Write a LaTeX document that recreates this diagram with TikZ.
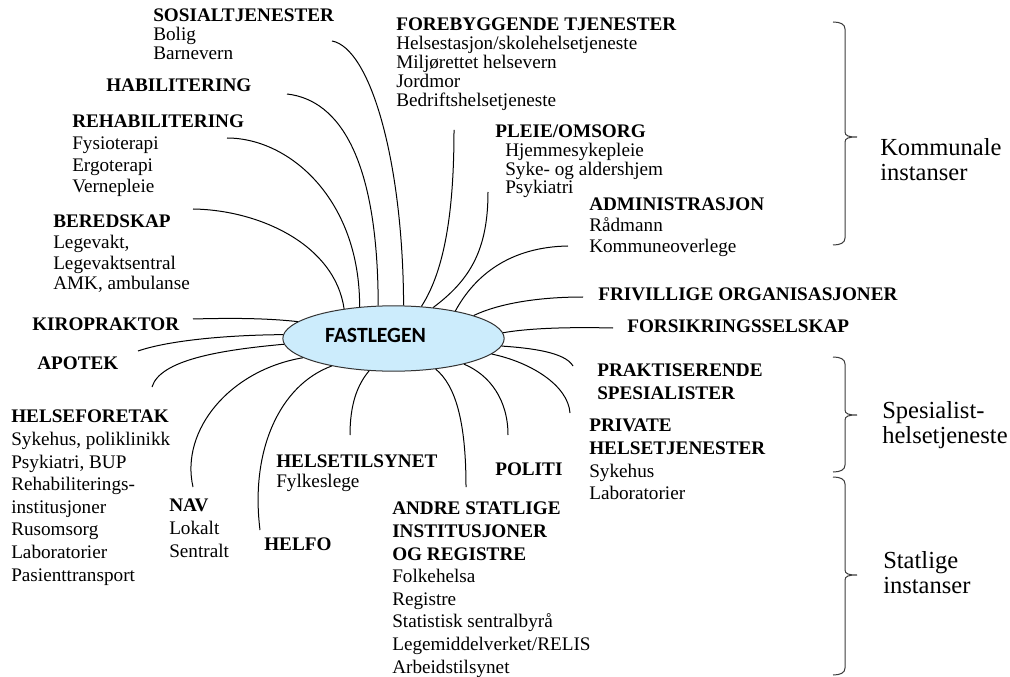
\documentclass[tikz,border=0pt]{standalone}
\usepackage{fontspec}
\setmainfont{Liberation Serif}
\newfontfamily\calibrifont{Carlito}
\usepackage{tikz}
\usetikzlibrary{shapes.geometric,calc}
\definecolor{EllipseBlue}{RGB}{204,236,252}
\definecolor{BraceGray}{RGB}{60,60,60}

% right brace: top y, bottom y, tip y
\newcommand{\groupbrace}[3]{%
  \draw[BraceGray, line width=0.75pt] (833,#1) .. controls (840,#1) and (845,#1+2) .. (845,#1+7)
    -- (845,#3-5) .. controls (845,#3-1) and (849,#3) .. (857,#3)
    .. controls (849,#3) and (845,#3+1) .. (845,#3+5)
    -- (845,#2-7) .. controls (845,#2-2) and (840,#2) .. (833,#2);}

\begin{document}
\begin{tikzpicture}[x=0.75pt, y=-0.75pt,
    entry/.style={anchor=north west, inner sep=0pt, align=left, font=\fontsize{14.4}{#1}\selectfont},
    entry/.default=14.25,
    grouplabel/.style={anchor=north west, inner sep=0pt, align=left, font=\fontsize{18.4}{18.75}\selectfont},
    link/.style={line width=0.75pt, black}]
    \useasboundingbox (0,0) rectangle (1010,677);

    % Centre
    \node[ellipse, draw=black!80, fill=EllipseBlue, line width=0.75pt, minimum width=166pt, minimum height=49pt, inner sep=0pt] (fl) at (393.5,338.5) {};
    \node[anchor=base, font={\calibrifont\fontsize{16.3}{18}\selectfont\bfseries}] (fltext) at (375.5,342) {FASTLEGEN};

    % Upper left
    \node[entry] (sos) at (153,9) {\textbf{SOSIALTJENESTER}\\Bolig\\Barnevern};
    \node[entry] (habil) at (106,79) {\textbf{HABILITERING}};
    \node[entry=16.2] (rehab) at (72,115) {\textbf{REHABILITERING}\\Fysioterapi\\Ergoterapi\\Vernepleie};
    \node[entry=15.5] (bered) at (53,215) {\textbf{BEREDSKAP}\\Legevakt,\\Legevaktsentral\\AMK, ambulanse};
    \node[entry] (kiro) at (32,318) {\textbf{KIROPRAKTOR}};
    \node[entry] (apotek) at (37,357) {\textbf{APOTEK}};

    % Lower left
    \node[entry=16.95] (hf) at (11,410) {\textbf{HELSEFORETAK}\\Sykehus, poliklinikk\\Psykiatri, BUP\\Rehabiliterings-\\institusjoner\\Rusomsorg\\Laboratorier\\Pasienttransport};
    \node[entry=17.25] (nav) at (169,499) {\textbf{NAV}\\Lokalt\\Sentralt};
    \node[entry] (helfo) at (264,538) {\textbf{HELFO}};
    \node[entry=15] (htil) at (276,455) {\textbf{HELSETILSYNET}\\Fylkeslege};
    \node[entry=16.95] (andre) at (392,502) {\textbf{ANDRE STATLIGE}\\\textbf{INSTITUSJONER}\\\textbf{OG REGISTRE}\\Folkehelsa\\Registre\\Statistisk sentralbyrå\\Legemiddelverket/RELIS\\Arbeidstilsynet};
    \node[entry] (politi) at (495,463) {\textbf{POLITI}};

    % Right
    \node[entry=17.25] (prakt) at (597,364) {\textbf{PRAKTISERENDE}\\\textbf{SPESIALISTER}};
    \node[entry=17] (priv) at (589,419) {\textbf{PRIVATE}\\\textbf{HELSETJENESTER}\\Sykehus\\Laboratorier};
    \node[entry] (fors) at (627,320) {\textbf{FORSIKRINGSSELSKAP}};
    \node[entry] (friv) at (598,288) {\textbf{FRIVILLIGE ORGANISASJONER}};
    \node[entry=15.75] (admin) at (589,198) {\textbf{ADMINISTRASJON}\\Rådmann\\Kommuneoverlege};
    \node[entry=14] (pleie) at (495,125) {\textbf{PLEIE/OMSORG}\\\hspace*{7.5pt}Hjemmesykepleie\\\hspace*{7.5pt}Syke- og aldershjem\\\hspace*{7.5pt}Psykiatri};
    \node[entry] (fore) at (396,18) {\textbf{FOREBYGGENDE TJENESTER}\\Helsestasjon/skolehelsetjeneste\\Miljørettet helsevern\\Jordmor\\Bedriftshelsetjeneste};

    % Connectors
    \draw[link] (fl.149) .. controls (335,245) and (260,210) .. (193,209) coordinate (bered-end);
    \draw[link] (fl.137) .. controls (360,200) and (290,138) .. (227,138) coordinate (rehab-end);
    \draw[link] (fl.115) .. controls (378,160) and (340,100) .. (287,94) coordinate (habil-end);
    \draw[link] (fl.73) .. controls (403,160) and (370,48) .. (332,41) coordinate (sos-end);
    \draw[link] (fl.49) .. controls (445,270) and (454,210) .. (454,130) coordinate (fore-end);
    \draw[link] (fl.38) .. controls (470,280) and (488,250) .. (488,192) coordinate (pleie-end);
    \draw[link] (fl.24) .. controls (475,275) and (510,247) .. (568,246) coordinate (admin-end);
    \draw[link] (fl.16) .. controls (500,303) and (540,297) .. (583,297) coordinate (friv-end);
    \draw[link] (fl.3) .. controls (530,328) and (570,327) .. (613,328) coordinate (fors-end);
    \draw[link] (fl.356) .. controls (530,348) and (565,352) .. (573,366) coordinate (prakt-end);
    \draw[link] (fl.351) .. controls (530,362) and (568,385) .. (570,413) coordinate (priv-end);
    \draw[link] (fl.340) .. controls (490,375) and (508,400) .. (508,435) coordinate (politi-end);
    \draw[link] (fl.324) .. controls (455,385) and (466,420) .. (466,487) coordinate (andre-end);
    \draw[link] (fl.233) .. controls (357,385) and (350,405) .. (350,435) coordinate (htil-end);
    \draw[link] (fl.204) .. controls (280,385) and (250,450) .. (260,530) coordinate (helfo-end);
    \draw[link] (fl.192) .. controls (230,370) and (180,430) .. (193,487) coordinate (nav-end);
    \draw[link] (fl.183) .. controls (220,350) and (160,360) .. (152,387) coordinate (hf-end);
    \draw[link] (fl.178) .. controls (230,335) and (170,340) .. (138,351) coordinate (apotek-end);
    \draw[link] (fl.170) .. controls (265,318) and (230,318) .. (193,319) coordinate (kiro-end);

    % Braces and group labels
    \groupbrace{22}{245}{137}
    \groupbrace{357}{472}{415}
    \groupbrace{477}{675}{575}
    \node[grouplabel] (kommunal) at (880,138) {Kommunale\\instanser};
    \node[grouplabel] (spesialist) at (882,401) {Spesialist-\\helsetjeneste};
    \node[grouplabel] (statlig) at (883,551) {Statlige\\instanser};
\end{tikzpicture}
\end{document}
